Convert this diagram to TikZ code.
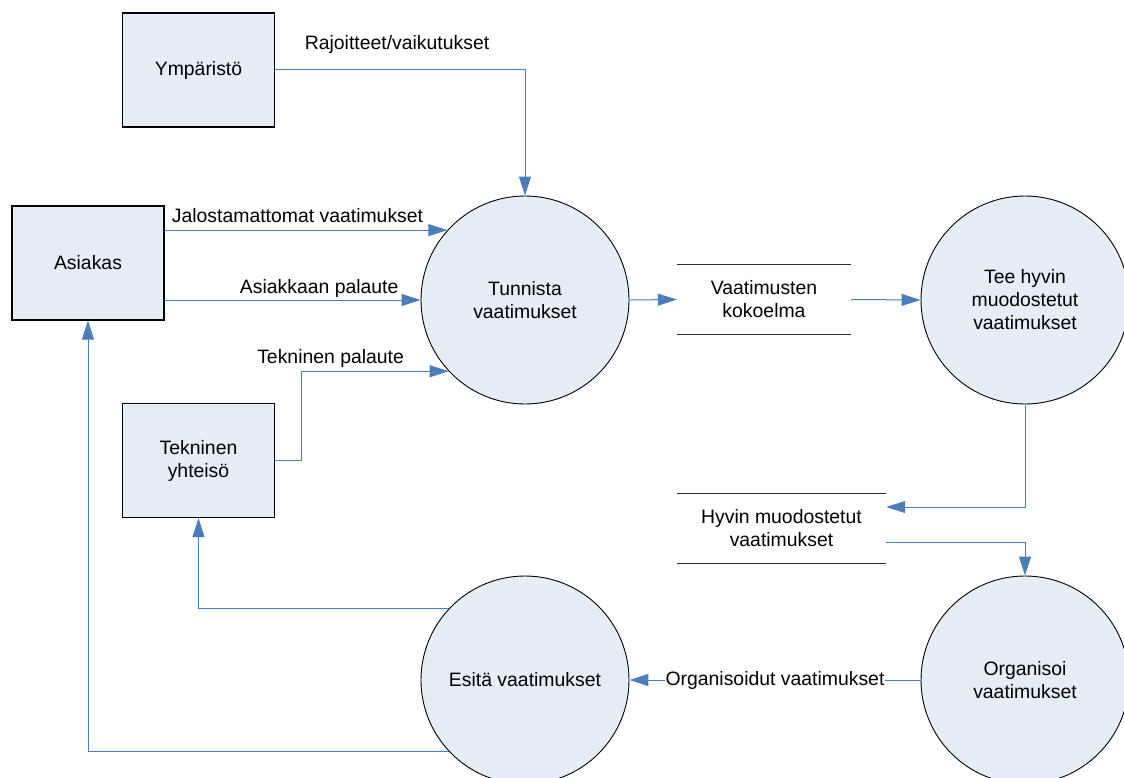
\documentclass[tikz,border=0pt]{standalone}
\usepackage{fontspec}
\setmainfont{Liberation Sans}
\usetikzlibrary{arrows.meta}

\definecolor{flowblue}{RGB}{74,126,187}
\definecolor{shapefill}{RGB}{231,237,247}
\definecolor{storeline}{RGB}{50,50,50}

\tikzset{
  entity/.style={draw=black, line width=1.2pt, fill=shapefill, rectangle,
    minimum width=152pt, minimum height=114pt, align=center, inner sep=0pt},
  process/.style={draw=black, line width=0.9pt, fill=shapefill, circle,
    minimum size=208pt, align=center, inner sep=0pt},
  datastore/.style={rectangle, minimum height=69pt, align=center, inner sep=0pt},
  storeedge/.style={draw=storeline, line width=1.2pt},
  flow/.style={draw=flowblue, line width=1pt,
    -{Triangle[length=19pt,width=12pt]}, color=flowblue},
  flowlabel/.style={anchor=base, text=black, inner sep=0pt},
}

\begin{document}
\begin{tikzpicture}[x=1pt, y=-1pt, font=\fontsize{19.4}{23}\selectfont]
  \useasboundingbox (0,0) rectangle (1124,778);
  \clip (0,0) rectangle (1124,778);

  % external entities
  \node[entity] (ymp) at (198.5,70) {Ympäristö};
  \node[entity] (as)  at (88,263)   {Asiakas};
  \node[entity] (tek) at (198.5,460.5) {Tekninen\\yhteisö};

  % processes
  \node[process] (tun) at (525,300)  {Tunnista\\vaatimukset};
  \node[process] (tee) at (1025,300) {Tee hyvin\\muodostetut\\vaatimukset};
  \node[process] (org) at (1025,680) {Organisoi\\vaatimukset};
  \node[process] (esi) at (525,680)  {Esitä vaatimukset};

  % data stores
  \node[datastore, minimum width=174pt] (vk) at (764,299.5) {Vaatimusten\\kokoelma};
  \node[datastore, minimum width=209pt] (hm) at (781.5,528.5) {Hyvin muodostetut\\vaatimukset};
  \foreach \s in {vk,hm} {
    \draw[storeedge] (\s.north west) -- (\s.north east);
    \draw[storeedge] (\s.south west) -- (\s.south east);
  }

  % data flows
  \draw[flow] (ymp.east) -| node[flowlabel, pos=0.244, yshift=20pt] {Rajoitteet/vaikutukset} (tun.north);
  \draw[flow] (as.east |- tun.138.4) -- node[flowlabel, pos=0.47, yshift=8pt] {Jalostamattomat vaatimukset} (tun.138.4);
  \draw[flow] (as.east |- tun.west) -- node[flowlabel, pos=0.604, yshift=7pt] {Asiakkaan palaute} (tun.west);
  \draw[flow] (tek.east) -- ++(26,0) |- node[flowlabel, pos=0.6, yshift=8pt] {Tekninen palaute} (tun.223);
  \draw[flow] (tun.east) -- (vk.west);
  \draw[flow] (vk.east) -- (tee.west);
  \draw[flow] (tee.south) |- ([yshift=21.5pt]hm.east);
  \draw[flow] ([yshift=-13.5pt]hm.east) -| (org.north);
  \draw[flow] (org.west) -- node[fill=white, text=black, inner xsep=1pt, inner ysep=2pt] {Organisoidut vaatimukset} (esi.east);
  \draw[flow] (esi.137.7) -| (tek.south);
  \draw[flow] (esi.223) -| (as.south);
\end{tikzpicture}
\end{document}
